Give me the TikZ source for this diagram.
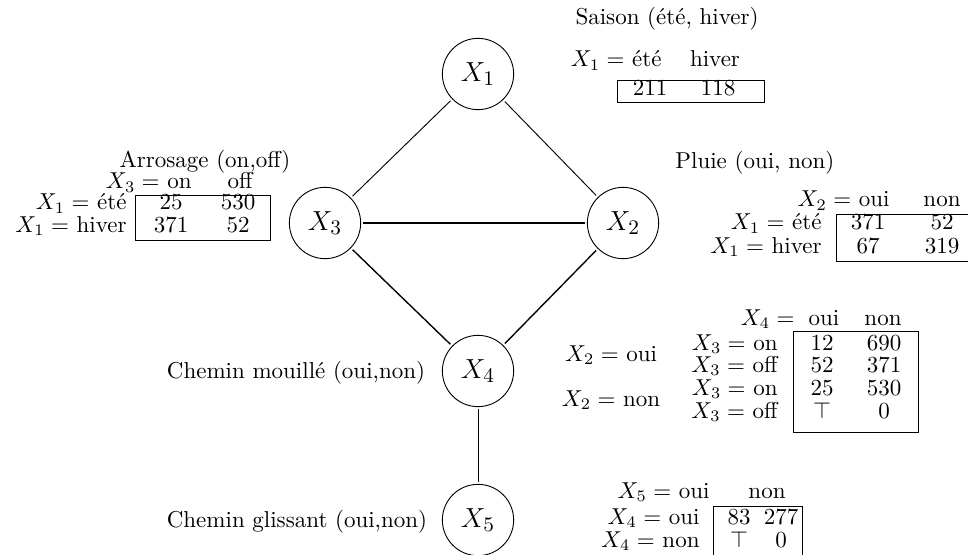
\documentclass[tikz,border=0pt]{standalone}
\usepackage{amsmath}
\usepackage{amssymb}
\usepackage{xcolor}
\usepackage{tikz}
\usetikzlibrary{positioning}

\tikzset{
  var/.style={circle, draw, minimum size=31pt, inner sep=0pt, font=\fontsize{13}{15}\selectfont},
  lien/.style={thin, shorten <=1pt, shorten >=1pt},
  lienfort/.style={semithick, shorten <=1pt, shorten >=1pt},
  txt/.style={anchor=base, inner sep=0pt},
  droite/.style={anchor=base east, inner sep=0pt},
  gauche/.style={anchor=base west, inner sep=0pt},
  boite/.style={thin}
}

\begin{document}
\begin{tikzpicture}[x=0.4348pt, y=-0.4348pt]
\useasboundingbox (0,0) rectangle (968,555);

% variables
\node[var] (x1) at (478,74) {$X_1$};
\node[var] (x3) at (325,223) {$X_3$};
\node[var] (x2) at (623,223) {$X_2$};
\node[var] (x4) at (478,371) {$X_4$};
\node[var] (x5) at (478,520) {$X_5$};

\draw[lien] (x1) -- (x3);
\draw[lien] (x1) -- (x2);
\draw[lienfort] (x3) -- (x2);
\draw[lienfort] (x3) -- (x4);
\draw[lienfort] (x2) -- (x4);
\draw[lien] (x4) -- (x5);

% saison
\node[txt] (saison) at (667,25) {Saison (été, hiver)};
\node[droite] (s-h1) at (662,67) {$X_1 =$ été};
\node[txt] (s-h2) at (715,67) {hiver};
\draw[boite] (617,80) rectangle (764,102);
\node[txt] (s-11) at (650,96) {211};
\node[txt] (s-12) at (718,96) {118};

% arrosage
\node[txt] (arro) at (205,168) {Arrosage (on,off)};
\node[droite] (a-h1) at (192,189) {$X_3 =$ on};
\node[txt] (a-h2) at (240,189) {off};
\node[droite] (a-r1) at (127,210) {$X_1 =$ été};
\node[droite] (a-r2) at (127,232) {$X_1 =$ hiver};
\draw[boite] (135,195) rectangle (270,240);
\node[txt] (a-11) at (171,210) {25};
\node[txt] (a-12) at (238,210) {530};
\node[txt] (a-21) at (171,232) {371};
\node[txt] (a-22) at (238,232) {52};

% pluie
\node[gauche] (pluie) at (675,169) {Pluie (oui, non)};
\node[droite] (p-h1) at (890,207) {$X_2 =$ oui};
\node[txt] (p-h2) at (942,207) {non};
\node[droite] (p-r1) at (822,230) {$X_1 =$ été};
\node[droite] (p-r2) at (822,253) {$X_1 =$ hiver};
\draw[boite] (836,214) rectangle (975,261);
\node[txt] (p-11) at (868,230) {371};
\node[txt] (p-12) at (942,230) {52};
\node[txt] (p-21) at (868,253) {67};
\node[txt] (p-22) at (942,253) {319};

% chemin mouille
\node[txt] (mouille) at (296,378) {Chemin mouillé (oui,non)};
\node[droite] (m-h0) at (795,325) {$X_4 =$};
\node[txt] (m-h1) at (824,325) {oui};
\node[txt] (m-h2) at (883,325) {non};
\node[txt] (m-g1) at (611,361) {$X_2 =$ oui};
\node[txt] (m-g2) at (611,406) {$X_2 =$ non};
\node[droite] (m-r1) at (778,350) {$X_3 =$ on};
\node[droite] (m-r2) at (778,372) {$X_3 =$ off};
\node[droite] (m-r3) at (778,395) {$X_3 =$ on};
\node[droite] (m-r4) at (778,418) {$X_3 =$ off};
\draw[boite] (793,331) rectangle (918,432);
\node[txt] (m-11) at (822,350) {12};
\node[txt] (m-12) at (884,350) {690};
\node[txt] (m-21) at (822,372) {52};
\node[txt] (m-22) at (884,372) {371};
\node[txt] (m-31) at (822,395) {25};
\node[txt] (m-32) at (884,395) {530};
\node[txt] (m-41) at (822,418) {$\top$};
\node[txt] (m-42) at (884,418) {0};

% chemin glissant
\node[txt] (glissant) at (297,527) {Chemin glissant (oui,non)};
\node[droite] (g-h1) at (710,498) {$X_5 =$ oui};
\node[txt] (g-h2) at (767,498) {non};
\node[droite] (g-r1) at (700,524) {$X_4 =$ oui};
\node[droite] (g-r2) at (700,547) {$X_4 =$ non};
\draw[boite] (713,506) rectangle (802,565);
\node[txt] (g-11) at (739,524) {83};
\node[txt] (g-12) at (781,524) {277};
\node[txt] (g-21) at (739,547) {$\top$};
\node[txt] (g-22) at (781,547) {0};
\end{tikzpicture}
\end{document}
